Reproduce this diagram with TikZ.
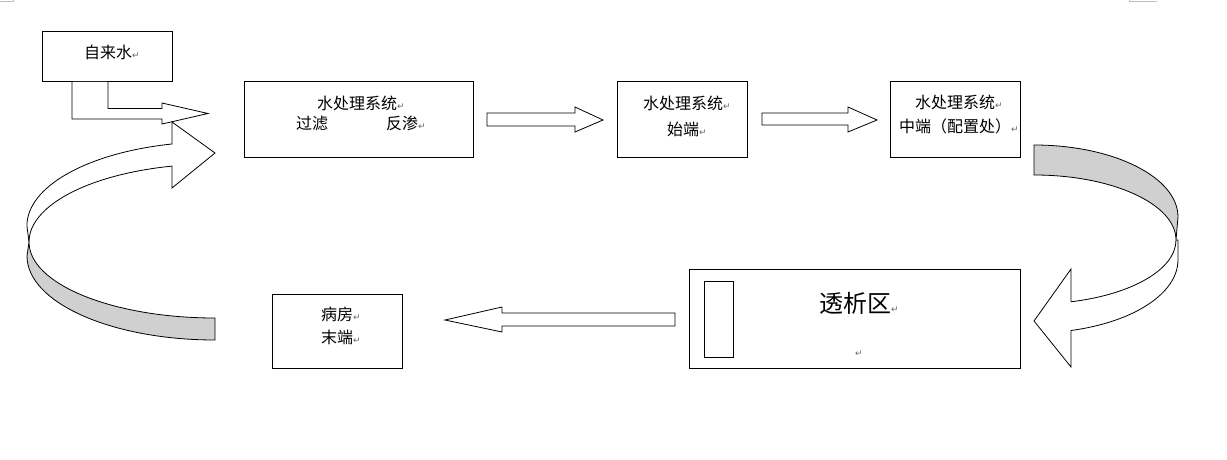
\documentclass[tikz,border=0pt]{standalone}
\usepackage{fontspec}
\usepackage{tikz}
\newfontfamily\cjk{Noto Sans CJK SC}
\newfontfamily\retfont{DejaVu Sans}
\newcommand{\retmark}{{\retfont\fontsize{9pt}{9pt}\selectfont\color{gray!80!black}↵}}
\definecolor{ribbon}{RGB}{208,208,208}
\tikzset{
  box/.style={draw,line width=1pt,inner sep=0},
  cntext/.style={font=\cjk\fontsize{16pt}{20pt}\selectfont,inner sep=0,align=center},
  blockarrow/.style={draw,fill=white,line width=0.8pt,line join=miter}
}

\begin{document}
\begin{tikzpicture}[x=1pt,y=-1pt]
      \useasboundingbox (0,0) rectangle (1227,460);
      \path [draw,gray!50] (0,1) -- (13,1) -- (13,0);
      \path [draw,gray!50] (1157,1) -- (1129,1) -- (1129,0);

      \node[box,minimum width=130pt,minimum height=50pt] (tap) at (107,57) {};
      \node[box,minimum width=229pt,minimum height=75pt] (pretreat) at (358.5,119.5) {};
      \node[box,minimum width=130pt,minimum height=75pt] (front) at (682,119.5) {};
      \node[box,minimum width=130pt,minimum height=75pt] (middle) at (955,119.5) {};
      \node[box,minimum width=331pt,minimum height=99pt] (dialysis) at (854.5,318.5) {};
      \node[box,minimum width=29pt,minimum height=76pt] (machine) at (718.5,319) {};
      \node[box,minimum width=130pt,minimum height=74pt] (ward) at (337,331) {};

      \node[cntext] (taptxt) at (112,52) {自来水\retmark};
      \node[cntext] (pretreattxt) at (361,113) {水处理系统\retmark\\ 过滤\hspace{58pt}反渗\retmark};
      \node[cntext] (fronttxt) at (687,116) {水处理系统\retmark\\[6pt]始端\retmark};
      \node[cntext] (middletxt) at (959,115) {水处理系统\retmark\\[4pt]中端（配置处）\retmark};
      \node[cntext,font=\cjk\fontsize{24pt}{28pt}\selectfont] (dialysistxt) at (859,303) {透析区\retmark};
      \node[inner sep=0] (dialysisret) at (859,354) {\retmark};
      \node[cntext] (wardtxt) at (341,325.5) {病房\retmark\\[3pt]末端\retmark};

      \path [blockarrow] (72,82) -- (72,119) -- (162,119) -- (162,124) -- (208,113.5)
        -- (162,103) -- (162,108.5) -- (108,108.5) -- (108,82);
      \path [blockarrow] (487,113) -- (575,113) -- (575,107) -- (603,120) -- (575,132)
        -- (575,126) -- (487,126) -- cycle;
      \path [blockarrow] (762,113) -- (848,113) -- (848,107) -- (877,120) -- (848,132)
        -- (848,125) -- (762,125) -- cycle;
      \path [blockarrow] (675,313) -- (502,313) -- (502,307) -- (445,320) -- (502,332)
        -- (502,326) -- (675,326) -- cycle;

      \path [blockarrow,fill=ribbon] (1034,145) arc[start angle=270,end angle=360,x radius=144,y radius=72]
        -- (1176,240) arc[start angle=0,end angle=-90,x radius=142,y radius=65] -- cycle;
      \path [blockarrow] (1176,240) arc[start angle=0,end angle=74.9,x radius=142,y radius=64]
        -- (1071,269) -- (1034,321) -- (1071,367) -- (1071,330.5)
        arc[start angle=75.1,end angle=0,x radius=144,y radius=73] -- (1178,240) -- cycle;

      \path [blockarrow,fill=ribbon] (29,242) arc[start angle=180,end angle=90,x radius=186,y radius=76]
        -- (215,340) arc[start angle=90,end angle=180,x radius=188,y radius=84] -- cycle;
      \path [blockarrow] (172,144) arc[start angle=256.8,end angle=180,x radius=188,y radius=84]
        -- (29,242) arc[start angle=180,end angle=256.6,x radius=186,y radius=78]
        -- (172,188) -- (215,153) -- (172,122) -- cycle;
    \end{tikzpicture}
\end{document}
